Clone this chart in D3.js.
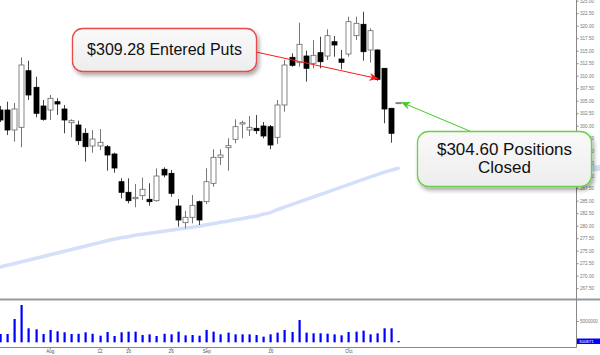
<!DOCTYPE html>
<html>
<head>
<meta charset="utf-8">
<script src="https://cdn.jsdelivr.net/npm/d3@7"></script>
<style>
html, body { margin: 0; padding: 0; background: #fff; }
svg { display: block; font-family: "Liberation Sans", Arial, sans-serif; }
</style>
</head>
<body>
<svg id="chart"></svg>
<script>
// trading days shown (Jul 23 2013 .. Oct 10 2013)
const dates = [
  "07-23","07-24","07-25","07-26","07-29","07-30","07-31",
  "08-01","08-02","08-05","08-06","08-07","08-08","08-09",
  "08-12","08-13","08-14","08-15","08-16","08-19","08-20","08-21","08-22","08-23",
  "08-26","08-27","08-28","08-29","08-30",
  "09-03","09-04","09-05","09-06","09-09","09-10","09-11","09-12","09-13",
  "09-16","09-17","09-18","09-19","09-20","09-23","09-24","09-25","09-26","09-27",
  "09-30","10-01","10-02","10-03","10-04","10-07","10-08","10-09","10-10"
];
const open = [303.14,303.14,299.14,299.68,311.00,307.68,303.94,303.14,304.80,303.34,
  300.60,300.14,298.48,295.94,295.94,295.80,294.34,288.80,286.68,285.40,
  286.00,285.28,285.00,291.28,290.48,283.94,280.60,281.68,284.80,284.80,
  288.48,293.68,295.60,297.28,300.34,299.14,299.48,299.94,299.80,297.68,
  304.14,313.68,312.60,313.94,312.48,314.60,313.94,316.80,313.34,314.34,
  318.00,320.28,315.14,315.14,311.48,303.48,304.60];
const high = [303.94,304.80,304.54,313.68,313.00,309.80,305.14,306.14,305.48,304.14,
  301.28,301.00,299.48,299.14,299.34,296.14,294.60,289.48,289.48,288.34,
  289.60,288.48,291.48,291.68,291.14,285.34,282.94,286.14,285.00,291.48,
  295.28,295.28,297.50,301.28,301.00,301.94,302.14,300.74,300.14,305.14,
  313.14,314.48,320.60,315.00,317.14,317.80,319.28,317.94,315.14,321.80,
  321.80,322.80,319.48,315.28,311.48,303.48,304.60];
const low = [300.74,298.14,296.80,295.68,305.14,301.68,301.00,301.14,302.14,298.48,
  297.68,296.14,292.80,294.60,295.14,291.00,290.60,285.48,284.48,283.68,
  285.14,284.00,284.80,289.68,285.80,279.80,279.48,280.48,280.14,284.34,
  287.80,292.14,291.00,296.48,297.48,297.94,298.34,297.48,295.28,296.34,
  302.80,311.80,311.80,308.80,311.48,311.48,313.14,313.80,311.28,313.80,
  317.14,313.00,312.60,309.00,300.48,296.60,304.60];
const close = [301.14,299.14,303.34,312.14,306.14,302.48,301.28,305.48,304.34,301.14,
  301.00,297.00,295.80,297.34,296.68,294.14,291.54,286.68,285.00,285.68,
  287.28,284.80,289.94,290.14,286.48,281.14,281.68,284.08,281.14,288.80,
  293.68,294.14,296.00,299.80,300.60,299.68,299.00,297.94,296.14,304.14,
  312.14,312.08,316.28,311.48,314.08,312.80,318.00,316.14,312.68,320.80,
  320.48,314.80,319.00,309.28,303.34,298.48,304.60];
const volume = [1950000,1950000,5470000,8760000,3290000,3050000,1950000,2900000,2580000,2350000,
  1950000,2000000,2350000,2000000,1550000,2420000,1480000,2350000,2500000,2500000,
  1710000,1870000,1480000,2000000,1870000,2500000,1640000,1710000,1550000,2900000,
  2500000,1870000,2270000,1870000,1870000,1870000,1710000,1330000,1870000,2270000,
  2900000,2420000,5240000,2270000,2110000,2110000,2030000,1870000,1640000,2420000,
  2500000,2740000,1870000,2110000,3290000,3290000,300871];
const ma = [271.7,272.1,272.4,272.8,273.1,273.5,273.8,274.2,274.5,274.9,
  275.2,275.6,275.9,276.3,276.6,277.0,277.3,277.6,277.8,278.1,
  278.3,278.5,278.7,278.9,279.1,279.3,279.5,279.7,279.9,280.2,
  280.4,280.7,280.9,281.2,281.4,281.7,281.9,282.3,282.6,283.2,
  283.7,284.2,284.7,285.2,285.7,286.2,286.7,287.2,287.7,288.2,
  288.7,289.2,289.7,290.2,290.7,291.1,291.5];

const priceTicks = [267.5,270,272.5,275,277.5,280,282.5,285,287.5,290,292.5,295,
  297.5,300,302.5,305,307.5,310,312.5,315,317.5,320,322.5,325];
const dateTicks = ["08-01","08-12","08-16","08-26","09-03","09-16","10-01"];
const dateTickLabels = ["Aug","12","16","26","Sep","16","Oct"];
const volTicks = [5000000];

const entryPrice = 309.28, entryDay = "10-07";
const exitPrice = 304.60, exitDay = "10-10";

const width = 600, height = 355;
const plotRight = 576;

const svg = d3.select("#chart").attr("width", width).attr("height", height);

const x = d3.scaleLinear().domain([0, 81]).range([0, plotRight]);
const xi = d => x(dates.indexOf(d));
const y = d3.scaleLinear().domain([265, 325]).range([300.7, 0.7]);
const vy = d3.scaleLinear().domain([0, 5000000]).range([342.3, 321]);

const defs = svg.append("defs");
const shadow = defs.append("filter").attr("id", "shadow")
  .attr("x", "-10%").attr("y", "-20%").attr("width", "130%").attr("height", "160%");
shadow.append("feDropShadow").attr("dx", 2).attr("dy", 3).attr("stdDeviation", 2)
  .attr("flood-color", "#000").attr("flood-opacity", 0.35);
const grad = defs.append("linearGradient").attr("id", "boxfill")
  .attr("x1", 0).attr("y1", 0).attr("x2", 0).attr("y2", 1);
grad.append("stop").attr("offset", "0%").attr("stop-color", "#fafafa");
grad.append("stop").attr("offset", "100%").attr("stop-color", "#ededed");
[["arrRed", "#ff1a1a"], ["arrGreen", "#44cc22"]].forEach(([id, c]) => {
  defs.append("marker").attr("id", id)
    .attr("markerUnits", "userSpaceOnUse")
    .attr("markerWidth", 10).attr("markerHeight", 8)
    .attr("refX", 9).attr("refY", 4).attr("orient", "auto")
    .append("path").attr("d", "M0,0 L9,4 L0,8 L2.5,4 Z").attr("fill", c);
});

// moving average
svg.append("path")
  .datum(ma)
  .attr("fill", "none")
  .attr("stroke", "#d4e0f9")
  .attr("stroke-width", 3.5)
  .attr("stroke-linecap", "round")
  .attr("d", d3.line().x((d, i) => x(i)).y(d => y(d)).curve(d3.curveMonotoneX));

// candles
const candles = svg.append("g").selectAll("g")
  .data(dates.map((d, i) => ({ i, o: open[i], h: high[i], l: low[i], c: close[i] })))
  .join("g");
candles.append("line")
  .attr("x1", d => Math.round(x(d.i)) + 0.5)
  .attr("x2", d => Math.round(x(d.i)) + 0.5)
  .attr("y1", d => y(d.h))
  .attr("y2", d => y(d.l))
  .attr("stroke", d => d.c >= d.o ? "#777" : "#444")
  .attr("stroke-width", 1);
candles.append("rect")
  .attr("x", d => Math.round(x(d.i)) - 2)
  .attr("width", 5)
  .attr("y", d => y(Math.max(d.o, d.c)))
  .attr("height", d => Math.max(1, y(Math.min(d.o, d.c)) - y(Math.max(d.o, d.c))))
  .attr("fill", d => d.c >= d.o ? "#fff" : "#000")
  .attr("stroke", d => d.c >= d.o ? "#666" : "#000")
  .attr("stroke-width", 0.8);

// volume
svg.append("g").selectAll("rect")
  .data(volume)
  .join("rect")
  .attr("x", (d, i) => Math.round(x(i)) - 0.5)
  .attr("width", 2.2)
  .attr("y", d => vy(d))
  .attr("height", d => vy(0) - vy(d))
  .attr("fill", "#0000ff");

// frame lines
svg.append("line").attr("x1", 0).attr("x2", width).attr("y1", 299.5).attr("y2", 299.5)
  .attr("stroke", "#9a9a9a").attr("stroke-width", 2);
svg.append("line").attr("x1", 0).attr("x2", plotRight + 0.5).attr("y1", 347.5).attr("y2", 347.5)
  .attr("stroke", "#888");
svg.append("line").attr("x1", plotRight + 0.5).attr("x2", plotRight + 0.5).attr("y1", 0).attr("y2", 347.5)
  .attr("stroke", "#888");

// axes
const styleAxis = g => {
  g.select(".domain").remove();
  g.selectAll(".tick line").attr("stroke", "#888");
  g.selectAll(".tick text").attr("fill", "#777").attr("font-size", 4.6)
    .attr("font-family", "Liberation Sans, Arial, sans-serif");
};
svg.append("g")
  .attr("transform", `translate(${plotRight + 0.5},0)`)
  .call(d3.axisRight(y).tickValues(priceTicks).tickSize(2).tickPadding(1.5).tickFormat(d3.format(".2f")))
  .call(styleAxis);
svg.append("g")
  .attr("transform", `translate(${plotRight + 0.5},0)`)
  .call(d3.axisRight(vy).tickValues(volTicks).tickSize(2).tickPadding(1.5).tickFormat(d3.format("d")))
  .call(styleAxis);
const tickIdx = dateTicks.map(d => dates.indexOf(d));
svg.append("g")
  .attr("transform", "translate(0,347.5)")
  .call(d3.axisBottom(x).tickValues(tickIdx)
    .tickSize(2).tickPadding(0.5).tickFormat(d => dateTickLabels[tickIdx.indexOf(d)]))
  .call(styleAxis)
  .selectAll(".tick text").attr("fill", "#555");

// last volume tag
const lastVol = volume[volume.length - 1];
svg.append("rect").attr("x", plotRight + 1).attr("y", vy(lastVol) - 2.5)
  .attr("width", width - plotRight - 1).attr("height", 5.5).attr("fill", "#0000ff");
svg.append("text").attr("x", plotRight + 3).attr("y", vy(lastVol) + 1.6)
  .attr("font-size", 4.4).attr("fill", "#fff").text(lastVol);

// moving average tag on the axis
const lastMa = ma[ma.length - 1];
svg.append("rect").attr("x", plotRight + 1).attr("y", y(lastMa) - 3)
  .attr("width", width - plotRight - 1).attr("height", 6).attr("fill", "#d4e0f9");

// annotations
const notes = svg.append("g");
notes.append("line")
  .attr("x1", 256).attr("y1", 52)
  .attr("x2", xi(entryDay) + 1.5).attr("y2", y(entryPrice) - 0.5)
  .attr("stroke", "#ff1a1a").attr("stroke-width", 1)
  .attr("marker-end", "url(#arrRed)");
notes.append("line")
  .attr("x1", 472).attr("y1", 132)
  .attr("x2", xi(exitDay) + 3).attr("y2", y(exitPrice) - 0.5)
  .attr("stroke", "#44cc22").attr("stroke-width", 1)
  .attr("marker-end", "url(#arrGreen)");

notes.append("rect")
  .attr("x", 72.5).attr("y", 28.5).attr("width", 184).attr("height", 43)
  .attr("rx", 10).attr("fill", "url(#boxfill)")
  .attr("stroke", "#e84848").attr("stroke-width", 1.3)
  .attr("filter", "url(#shadow)");
notes.append("text")
  .attr("x", 164.5).attr("y", 54.5).attr("text-anchor", "middle")
  .attr("font-size", 16).attr("fill", "#111")
  .text(`$${entryPrice.toFixed(2)} Entered Puts`);

notes.append("rect")
  .attr("x", 417.5).attr("y", 131.5).attr("width", 174).attr("height", 55)
  .attr("rx", 11).attr("fill", "url(#boxfill)")
  .attr("stroke", "#6ad04a").attr("stroke-width", 1.3)
  .attr("filter", "url(#shadow)");
notes.append("text")
  .attr("x", 504.5).attr("y", 154.5).attr("text-anchor", "middle")
  .attr("font-size", 17).attr("fill", "#111")
  .text(`$${exitPrice.toFixed(2)} Positions`);
notes.append("text")
  .attr("x", 504.5).attr("y", 173).attr("text-anchor", "middle")
  .attr("font-size", 17).attr("fill", "#111")
  .text("Closed");
</script>
</body>
</html>
